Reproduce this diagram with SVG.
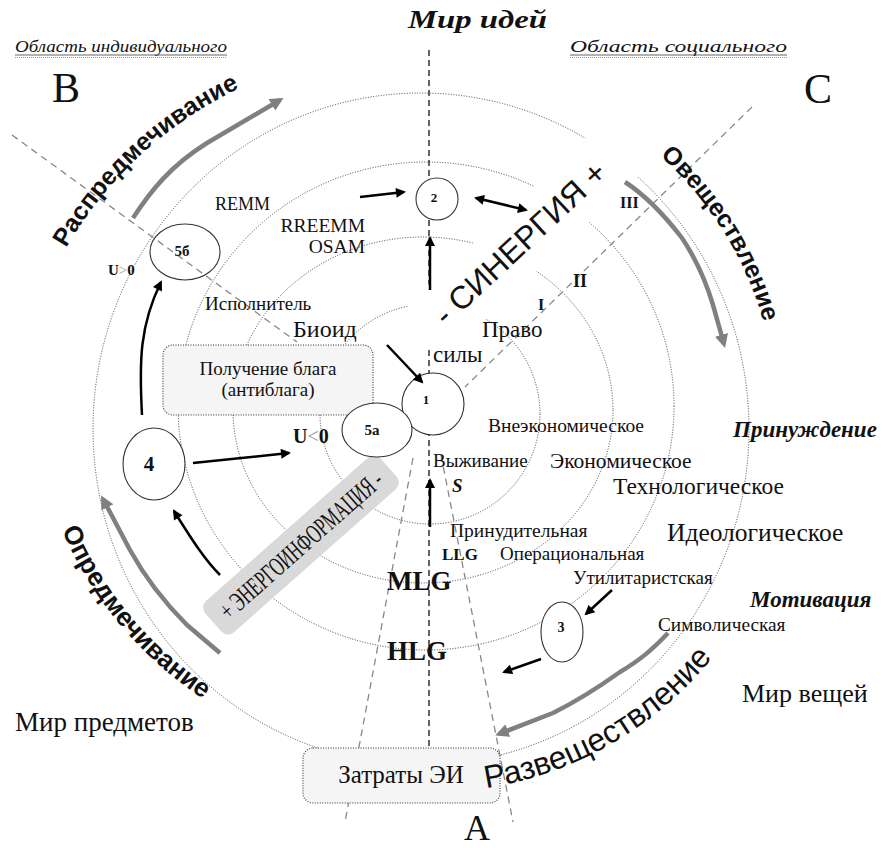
<svg xmlns="http://www.w3.org/2000/svg" width="883" height="848" viewBox="0 0 883 848">
<style>
.ser{font-family:"Liberation Serif","Times New Roman",serif;fill:#111}
.san{font-family:"Liberation Sans",Arial,sans-serif;fill:#111}
.b{font-weight:bold}
.bi{font-weight:bold;font-style:italic}
.it{font-style:italic}
.ring{fill:none;stroke:#444;stroke-width:1;stroke-dasharray:1 1.6}
.dash{fill:none;stroke:#888;stroke-width:1.3;stroke-dasharray:7 5}
.vdash{fill:none;stroke:#222;stroke-width:1.4;stroke-dasharray:6 4}
.node{fill:#fff;stroke:#333;stroke-width:1.1}
.box{fill:#f5f5f5;stroke:#333;stroke-width:1.1;stroke-dasharray:1 1.5}
.arr{fill:none;stroke:#000;stroke-width:2.5;marker-end:url(#ah)}
.garr{fill:none;stroke:#808080;stroke-width:4.5;stroke-linejoin:round;marker-end:url(#gh)}
</style>
<defs>
<marker id="ah" viewBox="0 0 10 10" refX="8" refY="5" markerWidth="4.6" markerHeight="4" orient="auto-start-reverse"><path d="M0,0 L10,5 L0,10 z" fill="#000"/></marker>
<marker id="gh" viewBox="0 0 10 10" refX="7" refY="5" markerWidth="3" markerHeight="3" orient="auto"><path d="M0,0 L10,5 L0,10 z" fill="#808080"/></marker>
<path id="p-raspr" d="M 66,248 A 400 400 0 0 1 258,80"/>
<path id="p-ovesh" d="M 660,156 A 352 352 0 0 1 772,360"/>
<path id="p-razv" d="M 486,788 A 362 362 0 0 0 745,610"/>
<path id="p-opred" d="M 62,530 A 380 380 0 0 0 240,720"/>
</defs>
<rect width="883" height="848" fill="#fff"/>

<g id="rings">
<circle class="ring" cx="430" cy="414" r="110"/>
<ellipse class="ring" cx="423" cy="410" rx="190" ry="173"/>
<ellipse class="ring" cx="426" cy="406" rx="248" ry="244"/>
<ellipse class="ring" cx="421" cy="429" rx="328" ry="336"/>
</g>

<g id="axes">
<path class="vdash" d="M429,50 L429,748"/>
<path class="dash" d="M12,135 L297,342"/>
<path class="dash" d="M752,107 L465,387"/>
<path class="dash" d="M413,458 L345,822"/>
<path class="dash" d="M441,455 L513,822"/>
</g>

<g id="synergy" transform="translate(520,243) rotate(-43)">
<rect x="-140" y="-32" width="292" height="64" rx="24" fill="#fff"/>
<text class="san" x="0" y="11" text-anchor="middle" font-size="32">- СИНЕРГИЯ +</text>
</g>

<g id="energo" transform="translate(301,545) rotate(-41.5)">
<rect x="-117" y="-21" width="234" height="42" rx="9" fill="#d9d9d9"/>
<text class="ser" x="0" y="9" text-anchor="middle" font-size="27" textLength="208" lengthAdjust="spacingAndGlyphs">+ ЭНЕРГОИНФОРМАЦИЯ -</text>
</g>

<g id="box-poluch">
<rect class="box" x="163" y="345" width="210" height="70" rx="10"/>
<text class="ser" x="268" y="375" text-anchor="middle" font-size="19">Получение блага</text>
<text class="ser" x="268" y="396" text-anchor="middle" font-size="19">(антиблага)</text>
</g>

<g id="box-zatraty">
<rect class="box" x="303" y="748" width="197" height="55" rx="10"/>
<text class="ser" x="401" y="783" text-anchor="middle" font-size="25">Затраты ЭИ</text>
</g>

<g id="node-1"><circle class="node" cx="433" cy="404" r="31"/><text class="ser b" x="426" y="404" text-anchor="middle" font-size="13">1</text></g>
<g id="node-2"><circle class="node" cx="437" cy="199" r="21"/><text class="ser b" x="434" y="202" text-anchor="middle" font-size="13">2</text></g>
<g id="node-3"><ellipse class="node" cx="562" cy="632" rx="21" ry="30"/><text class="ser b" x="561" y="632" text-anchor="middle" font-size="14">3</text></g>
<g id="node-4"><ellipse class="node" cx="154" cy="464" rx="31" ry="36"/><text class="ser b" x="149" y="471" text-anchor="middle" font-size="21">4</text></g>
<g id="node-5a"><ellipse class="node" cx="377" cy="430" rx="35" ry="27"/><text class="ser b" x="372" y="435" text-anchor="middle" font-size="15">5а</text></g>
<g id="node-5b"><ellipse class="node" style="fill:none" cx="185" cy="252" rx="35" ry="28"/><text class="ser b" x="182" y="256" text-anchor="middle" font-size="15">5б</text></g>

<g id="connectors">
<path class="arr" d="M360,197 L404,192"/>
<path class="arr" d="M476,198 L526,210" style="marker-start:url(#ah)"/>
<path class="arr" d="M430,290 L430,238"/>
<path class="arr" d="M387,345 L422,382"/>
<path class="arr" d="M430,527 L430,480"/>
<path class="arr" d="M193,463 L289,453"/>
<path class="arr" d="M142,415 C139,360 140,325 161,282"/>
<path class="arr" d="M220,575 C205,560 192,540 174,511"/>
<path class="arr" d="M612,590 L586,614"/>
<path class="arr" d="M541,659 L504,672"/>
<path class="garr" d="M133,218 C150,192 170,166 207,143 L280,100"/>
<path class="garr" d="M625,182 C645,195 662,212 682,238 Q702,268 713,305 L724,344"/>
<path class="garr" d="M668,633 C652,650 640,660 620,672 Q585,697 553,713 L499,734"/>
<path class="garr" d="M220,653 L187,625 Q152,590 130,550 L103,499"/>
</g>

<g id="labels">
<text class="ser bi" x="408" y="28" font-size="26" textLength="139" lengthAdjust="spacingAndGlyphs">Мир идей</text>
<text class="ser it" x="15" y="52" font-size="17" textLength="212" lengthAdjust="spacingAndGlyphs">Область индивидуального</text>
<line x1="15" y1="55" x2="227" y2="55" stroke="#666" stroke-width="1.2"/>
<line x1="15" y1="57.5" x2="227" y2="57.5" stroke="#999" stroke-width="1" stroke-dasharray="1 1"/>
<text class="ser it" x="570" y="52" font-size="17" textLength="217" lengthAdjust="spacingAndGlyphs">Область социального</text>
<line x1="570" y1="55" x2="787" y2="55" stroke="#666" stroke-width="1.2"/>
<line x1="570" y1="57.5" x2="787" y2="57.5" stroke="#999" stroke-width="1" stroke-dasharray="1 1"/>
<text class="ser" x="52" y="102" font-size="42">B</text>
<text class="ser" x="804" y="103" font-size="42">C</text>
<text class="ser" x="464" y="840" font-size="36">A</text>

<text class="san b" font-size="25"><textPath href="#p-raspr">Распредмечивание</textPath></text>
<text class="san b" font-size="25"><textPath href="#p-ovesh">Овеществление</textPath></text>
<text class="san" font-size="32"><textPath href="#p-razv">Развеществление</textPath></text>
<text class="san b" font-size="26"><textPath href="#p-opred">Опредмечивание</textPath></text>

<text class="ser" x="215" y="210" font-size="18">REMM</text>
<text class="ser" x="365" y="232" text-anchor="end" font-size="19.5">RREEMM</text>
<text class="ser" x="365" y="253" text-anchor="end" font-size="19.5">OSAM</text>
<text class="ser b" x="108" y="275" font-size="15">U<tspan fill="#999" font-weight="normal">&gt;</tspan>0</text>
<text class="ser" x="205" y="310" font-size="19">Исполнитель</text>
<text class="ser" x="293" y="337" font-size="24">Биоид</text>
<text class="ser" x="433" y="362" font-size="23">силы</text>
<text class="ser" x="482" y="337" font-size="23">Право</text>
<text class="ser b" x="538" y="310" font-size="16">I</text>
<text class="ser b" x="573" y="287" font-size="18">II</text>
<text class="ser b" x="620" y="208" font-size="16">III</text>
<text class="ser b" x="293" y="443" font-size="20">U<tspan fill="#999" font-weight="normal">&lt;</tspan>0</text>
<text class="ser" x="488" y="432" font-size="19.5">Внеэкономическое</text>
<text class="ser bi" x="733" y="437" font-size="23">Принуждение</text>
<text class="ser" x="433" y="467" font-size="19">Выживание</text>
<text class="ser" x="550" y="468" font-size="21.5">Экономическое</text>
<text class="ser bi" x="452" y="492" font-size="19">S</text>
<text class="ser" x="613" y="494" font-size="23.5">Технологическое</text>
<text class="ser" x="667" y="541" font-size="25.5">Идеологическое</text>
<text class="ser" x="450" y="537" font-size="19.5">Принудительная</text>
<text class="ser b" x="442" y="560" font-size="17">LLG</text>
<text class="ser" x="500" y="560" font-size="19">Операциональная</text>
<text class="ser b" x="387" y="590" font-size="27">MLG</text>
<text class="ser" x="573" y="584" font-size="19">Утилитаристская</text>
<text class="ser bi" x="750" y="607" font-size="23">Мотивация</text>
<text class="ser" x="658" y="631" font-size="19.3">Символическая</text>
<text class="ser b" x="387" y="660" font-size="27">HLG</text>
<text class="ser" x="742" y="702" font-size="26">Мир вещей</text>
<text class="ser" x="15" y="731" font-size="27">Мир предметов</text>
</g>
</svg>
